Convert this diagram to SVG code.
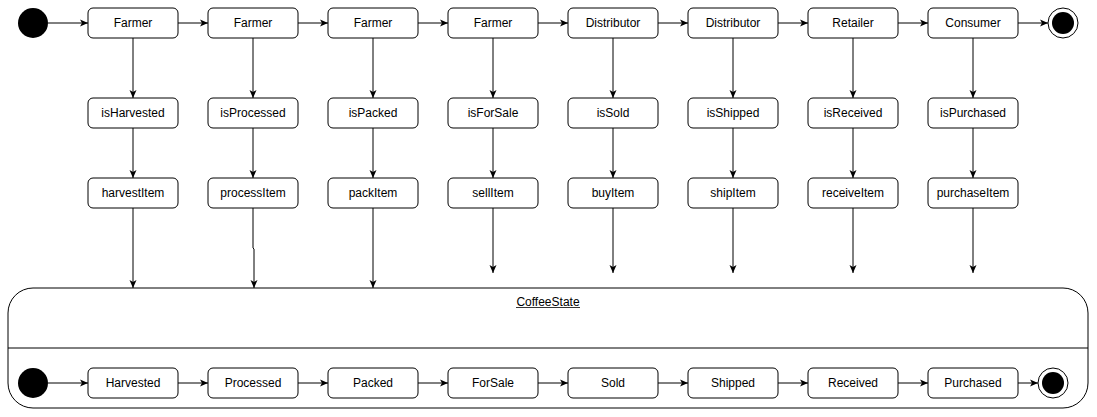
<svg xmlns="http://www.w3.org/2000/svg" width="1097" height="417" viewBox="0 0 1097 417">
<defs>
<marker id="arr" markerUnits="userSpaceOnUse" markerWidth="10" markerHeight="10" refX="8" refY="4" orient="auto">
<path d="M0,0.5 L8,4 L0,7.5 L2,4 z" fill="#000"/>
</marker>
<style>
.n rect{fill:#fff;stroke:#000;stroke-width:1}
.n text,.t{font-family:"Liberation Sans",Arial,sans-serif;font-size:12px;fill:#000;text-anchor:middle}
.c path{fill:none;stroke:#000;stroke-width:1;marker-end:url(#arr)}
</style>
</defs>
<rect width="1097" height="417" fill="#fff"/>
<g id="container">
<path d="M33,288 H1063 A25,25 0 0 1 1088,313 V383 A25,25 0 0 1 1063,408 H33 A25,25 0 0 1 8,383 V313 A25,25 0 0 1 33,288 Z" fill="#fff" stroke="#000"/>
<line x1="8" y1="348" x2="1088" y2="348" stroke="#000"/>
<text class="t" x="548" y="306">CoffeeState</text>
<line x1="516" y1="307.5" x2="580" y2="307.5" stroke="#000" stroke-width="0.8"/>
</g>
<g id="start-top"><circle cx="33" cy="23" r="15" fill="#000"/></g>
<g id="end-top"><circle cx="1063" cy="23" r="15" fill="#fff" stroke="#000"/><circle cx="1063" cy="23" r="11" fill="#000"/></g>
<g id="start-bottom"><circle cx="33" cy="383" r="15" fill="#000"/></g>
<g id="end-bottom"><circle cx="1053" cy="383" r="15" fill="#fff" stroke="#000"/><circle cx="1053" cy="383" r="11" fill="#000"/></g>
<g id="actor-1" class="n"><rect x="88" y="8" width="90" height="30" rx="5"/><text x="133" y="27">Farmer</text></g>
<g id="actor-2" class="n"><rect x="208" y="8" width="90" height="30" rx="5"/><text x="253" y="27">Farmer</text></g>
<g id="actor-3" class="n"><rect x="328" y="8" width="90" height="30" rx="5"/><text x="373" y="27">Farmer</text></g>
<g id="actor-4" class="n"><rect x="448" y="8" width="90" height="30" rx="5"/><text x="493" y="27">Farmer</text></g>
<g id="actor-5" class="n"><rect x="568" y="8" width="90" height="30" rx="5"/><text x="613" y="27">Distributor</text></g>
<g id="actor-6" class="n"><rect x="688" y="8" width="90" height="30" rx="5"/><text x="733" y="27">Distributor</text></g>
<g id="actor-7" class="n"><rect x="808" y="8" width="90" height="30" rx="5"/><text x="853" y="27">Retailer</text></g>
<g id="actor-8" class="n"><rect x="928" y="8" width="90" height="30" rx="5"/><text x="973" y="27">Consumer</text></g>
<g id="check-1" class="n"><rect x="88" y="98" width="90" height="30" rx="5"/><text x="133" y="117">isHarvested</text></g>
<g id="check-2" class="n"><rect x="208" y="98" width="90" height="30" rx="5"/><text x="253" y="117">isProcessed</text></g>
<g id="check-3" class="n"><rect x="328" y="98" width="90" height="30" rx="5"/><text x="373" y="117">isPacked</text></g>
<g id="check-4" class="n"><rect x="448" y="98" width="90" height="30" rx="5"/><text x="493" y="117">isForSale</text></g>
<g id="check-5" class="n"><rect x="568" y="98" width="90" height="30" rx="5"/><text x="613" y="117">isSold</text></g>
<g id="check-6" class="n"><rect x="688" y="98" width="90" height="30" rx="5"/><text x="733" y="117">isShipped</text></g>
<g id="check-7" class="n"><rect x="808" y="98" width="90" height="30" rx="5"/><text x="853" y="117">isReceived</text></g>
<g id="check-8" class="n"><rect x="928" y="98" width="90" height="30" rx="5"/><text x="973" y="117">isPurchased</text></g>
<g id="fn-1" class="n"><rect x="88" y="178" width="90" height="30" rx="5"/><text x="133" y="197">harvestItem</text></g>
<g id="fn-2" class="n"><rect x="208" y="178" width="90" height="30" rx="5"/><text x="253" y="197">processItem</text></g>
<g id="fn-3" class="n"><rect x="328" y="178" width="90" height="30" rx="5"/><text x="373" y="197">packItem</text></g>
<g id="fn-4" class="n"><rect x="448" y="178" width="90" height="30" rx="5"/><text x="493" y="197">sellItem</text></g>
<g id="fn-5" class="n"><rect x="568" y="178" width="90" height="30" rx="5"/><text x="613" y="197">buyItem</text></g>
<g id="fn-6" class="n"><rect x="688" y="178" width="90" height="30" rx="5"/><text x="733" y="197">shipItem</text></g>
<g id="fn-7" class="n"><rect x="808" y="178" width="90" height="30" rx="5"/><text x="853" y="197">receiveItem</text></g>
<g id="fn-8" class="n"><rect x="928" y="178" width="90" height="30" rx="5"/><text x="973" y="197">purchaseItem</text></g>
<g id="state-1" class="n"><rect x="88" y="368" width="90" height="30" rx="5"/><text x="133" y="387">Harvested</text></g>
<g id="state-2" class="n"><rect x="208" y="368" width="90" height="30" rx="5"/><text x="253" y="387">Processed</text></g>
<g id="state-3" class="n"><rect x="328" y="368" width="90" height="30" rx="5"/><text x="373" y="387">Packed</text></g>
<g id="state-4" class="n"><rect x="448" y="368" width="90" height="30" rx="5"/><text x="493" y="387">ForSale</text></g>
<g id="state-5" class="n"><rect x="568" y="368" width="90" height="30" rx="5"/><text x="613" y="387">Sold</text></g>
<g id="state-6" class="n"><rect x="688" y="368" width="90" height="30" rx="5"/><text x="733" y="387">Shipped</text></g>
<g id="state-7" class="n"><rect x="808" y="368" width="90" height="30" rx="5"/><text x="853" y="387">Received</text></g>
<g id="state-8" class="n"><rect x="928" y="368" width="90" height="30" rx="5"/><text x="973" y="387">Purchased</text></g>
<g id="connectors" class="c">
<path d="M48,23 H88"/>
<path d="M178,23 H208"/>
<path d="M298,23 H328"/>
<path d="M418,23 H448"/>
<path d="M538,23 H568"/>
<path d="M658,23 H688"/>
<path d="M778,23 H808"/>
<path d="M898,23 H928"/>
<path d="M1018,23 H1048"/>
<path d="M133,38 V98"/>
<path d="M253,38 V98"/>
<path d="M373,38 V98"/>
<path d="M493,38 V98"/>
<path d="M613,38 V98"/>
<path d="M733,38 V98"/>
<path d="M853,38 V98"/>
<path d="M973,38 V98"/>
<path d="M133,128 V178"/>
<path d="M253,128 V178"/>
<path d="M373,128 V178"/>
<path d="M493,128 V178"/>
<path d="M613,128 V178"/>
<path d="M733,128 V178"/>
<path d="M853,128 V178"/>
<path d="M973,128 V178"/>
<path d="M133,208 V288"/>
<path d="M253,208 V248 L254,249 V288"/>
<path d="M373,208 V288"/>
<path d="M493,208 V273"/>
<path d="M613,208 V273"/>
<path d="M733,208 V273"/>
<path d="M853,208 V273"/>
<path d="M973,208 V273"/>
<path d="M48,383 H88"/>
<path d="M178,383 H208"/>
<path d="M298,383 H328"/>
<path d="M418,383 H448"/>
<path d="M538,383 H568"/>
<path d="M658,383 H688"/>
<path d="M778,383 H808"/>
<path d="M898,383 H928"/>
<path d="M1018,383 H1038"/>
</g>
</svg>
